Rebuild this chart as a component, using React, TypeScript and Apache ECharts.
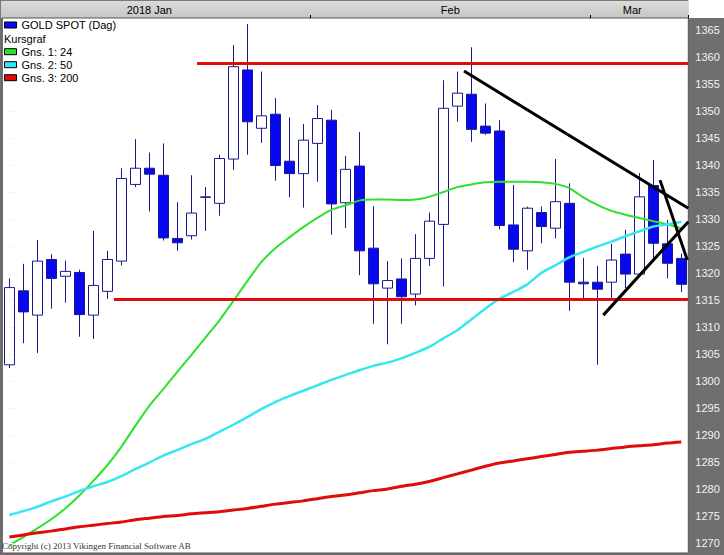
import React, { useEffect, useRef } from 'react';
import * as echarts from 'echarts';

// ---------- data ----------
const dates = [
  '2018-01-02','2018-01-03','2018-01-04','2018-01-05','2018-01-08','2018-01-09','2018-01-10','2018-01-11','2018-01-12',
  '2018-01-15','2018-01-16','2018-01-17','2018-01-18','2018-01-19','2018-01-22','2018-01-23','2018-01-24','2018-01-25',
  '2018-01-26','2018-01-29','2018-01-30','2018-01-31',
  '2018-02-01','2018-02-02','2018-02-05','2018-02-06','2018-02-07','2018-02-08','2018-02-09','2018-02-12','2018-02-13',
  '2018-02-14','2018-02-15','2018-02-16','2018-02-19','2018-02-20','2018-02-21','2018-02-22','2018-02-23','2018-02-26',
  '2018-02-27','2018-02-28',
  '2018-03-01','2018-03-02','2018-03-05','2018-03-06','2018-03-07','2018-03-08','2018-03-09'
];

const openP = [
  1303.0, 1316.7, 1312.2, 1322.5, 1319.4, 1320.1, 1312.2, 1316.6, 1322.2, 1336.4,
  1339.4, 1338.1, 1326.4, 1326.9, 1334.0, 1332.9, 1341.1, 1357.6, 1346.8, 1349.4,
  1340.7, 1338.4, 1344.0, 1348.3, 1333.0, 1339.8, 1324.6, 1317.2, 1318.9, 1316.1,
  1322.7, 1329.0, 1350.9, 1353.1, 1347.2, 1346.3, 1328.9, 1324.1, 1331.2, 1328.3,
  1332.9, 1318.3, 1318.3, 1318.3, 1323.5, 1319.8, 1336.2, 1325.4, 1322.7
];
const closeP = [
  1317.3, 1312.8, 1322.2, 1319.0, 1320.3, 1312.3, 1317.7, 1322.5, 1337.5, 1339.4,
  1338.3, 1326.5, 1325.6, 1331.1, 1334.1, 1341.2, 1358.2, 1348.0, 1349.1, 1339.9,
  1338.4, 1344.6, 1348.6, 1332.8, 1339.2, 1324.1, 1318.0, 1318.6, 1315.6, 1322.7,
  1329.6, 1350.5, 1353.3, 1346.6, 1345.9, 1328.8, 1324.4, 1332.0, 1328.6, 1333.2,
  1318.3, 1318.0, 1317.0, 1322.4, 1319.8, 1334.1, 1325.5, 1321.8, 1317.9
];
const lowP = [
  1302.4, 1307.0, 1305.2, 1313.4, 1314.5, 1308.2, 1307.8, 1315.2, 1321.4, 1335.9,
  1331.4, 1326.0, 1324.1, 1326.2, 1327.8, 1330.6, 1339.1, 1341.9, 1344.1, 1337.1,
  1334.0, 1332.1, 1336.9, 1327.1, 1328.3, 1319.6, 1310.6, 1306.8, 1310.6, 1314.0,
  1321.3, 1317.5, 1348.0, 1344.3, 1345.6, 1328.1, 1322.0, 1320.6, 1325.5, 1326.4,
  1313.0, 1315.1, 1303.0, 1315.1, 1317.2, 1319.3, 1322.4, 1319.0, 1316.5
];
const highP = [
  1319.0, 1321.7, 1326.1, 1323.5, 1322.3, 1320.6, 1327.8, 1324.1, 1339.4, 1344.8,
  1342.3, 1344.0, 1333.1, 1338.1, 1335.9, 1341.9, 1362.2, 1366.1, 1357.3, 1352.4,
  1348.8, 1347.6, 1351.1, 1350.2, 1341.7, 1346.1, 1332.4, 1322.2, 1322.7, 1327.2,
  1331.2, 1355.7, 1357.3, 1361.8, 1351.4, 1348.3, 1336.3, 1332.3, 1332.3, 1341.1,
  1336.6, 1322.8, 1321.3, 1325.4, 1328.0, 1338.5, 1340.9, 1329.8, 1323.6
];

const ma24 = [
  1269.6, 1271.1, 1272.7, 1274.4, 1276.4, 1278.8, 1281.5, 1284.4, 1287.8, 1291.7,
  1295.4, 1298.5, 1301.7, 1304.8, 1308.0, 1311.2, 1314.8, 1318.5, 1322.0, 1324.6,
  1326.6, 1328.5, 1330.2, 1331.7, 1332.5, 1333.4, 1333.6, 1333.6, 1333.5, 1333.6,
  1334.1, 1335.0, 1335.9, 1336.4, 1336.8, 1336.9, 1336.9, 1336.9, 1336.8, 1336.5,
  1335.7, 1334.0, 1332.6, 1331.5, 1330.8, 1330.2, 1329.6, 1329.0, 1328.3
];
const ma50 = [
  1275.2, 1275.9, 1276.7, 1277.7, 1278.6, 1279.6, 1280.5, 1281.3, 1282.4, 1283.7,
  1284.9, 1286.2, 1287.2, 1288.3, 1289.3, 1290.6, 1291.9, 1293.3, 1294.8, 1296.1,
  1297.2, 1298.2, 1299.2, 1300.2, 1301.1, 1302.0, 1302.8, 1303.4, 1304.2, 1305.2,
  1306.3, 1307.9, 1309.4, 1311.4, 1313.4, 1315.2, 1316.5, 1317.9, 1320.0, 1321.4,
  1322.9, 1323.9, 1324.9, 1325.8, 1326.8, 1327.7, 1328.6, 1329.0, 1329.5
];
const ma200 = [
  1271.1, 1271.5, 1271.9, 1272.2, 1272.6, 1273.0, 1273.3, 1273.6, 1273.9, 1274.3,
  1274.6, 1274.9, 1275.1, 1275.4, 1275.6, 1275.8, 1276.1, 1276.4, 1276.8, 1277.2,
  1277.5, 1277.8, 1278.2, 1278.6, 1278.9, 1279.3, 1279.7, 1280.0, 1280.5, 1280.9,
  1281.4, 1282.1, 1282.8, 1283.5, 1284.2, 1284.8, 1285.2, 1285.6, 1286.0, 1286.4,
  1286.8, 1287.0, 1287.2, 1287.5, 1287.8, 1288.0, 1288.2, 1288.5, 1288.7
];

// drawn annotations: [categoryPosition, price]
const resistanceLine = [[13.41, 1358.8], [48.5, 1358.8]];
const supportLine = [[7.48, 1315.1], [48.5, 1315.1]];
const trendDown = [[32.48, 1357.4], [48.5, 1332.0]];
const trendUp = [[42.43, 1312.2], [48.5, 1329.5]];
const trendSteep = [[46.48, 1337.2], [48.43, 1322.4]];

const yTicks = [1270, 1275, 1280, 1285, 1290, 1295, 1300, 1305, 1310, 1315, 1320,
  1325, 1330, 1335, 1340, 1345, 1350, 1355, 1360, 1365];
const monthTickIdx = [22, 42];
const monthLabelIdx = [10, 31, 44];
const monthLabelText = ['2018 Jan', 'Feb', 'Mar'];

const Y_MIN = 1268.15;
const Y_MAX = 1367.22;

const FONT = '"Liberation Sans", Arial, sans-serif';

export default function App() {
  const ref = useRef<HTMLDivElement>(null);

  useEffect(() => {
    if (!ref.current) return;
    const chart = echarts.init(ref.current, undefined, { renderer: 'svg' });
    const candles = openP.map((o, i) => [o, closeP[i], lowP[i], highP[i]]);
    const lastIdx = dates.length - 1;

    const annot = (name: string, data: number[][], color: string, width: number) => ({
      type: 'line',
      name,
      xAxisIndex: 1,
      yAxisIndex: 0,
      data,
      symbol: 'none',
      silent: true,
      lineStyle: { color, width, cap: 'butt' },
      z: 4,
    });

    const option: any = {
      animation: false,
      backgroundColor: '#6f6f6f',
      textStyle: { fontFamily: FONT },
      grid: {
        left: 2.3, right: 35.7, top: 18, bottom: 2,
        show: true, backgroundColor: '#ffffff', borderColor: '#555555', borderWidth: 1,
      },
      legend: [
        {
          orient: 'vertical', left: 4, top: 18.5, padding: 0, itemGap: 0,
          itemWidth: 12, itemHeight: 6, icon: 'rect', selectedMode: false,
          textStyle: { fontSize: 11, color: '#000', fontFamily: FONT, lineHeight: 13 },
          data: [{ name: 'GOLD SPOT (Dag)', itemStyle: { color: '#0808f0', borderColor: '#000', borderWidth: 1 } }],
        },
        {
          orient: 'vertical', left: 4, top: 45.2, padding: 0, itemGap: 0,
          itemWidth: 12, itemHeight: 6, icon: 'rect', selectedMode: false,
          textStyle: { fontSize: 11, color: '#000', fontFamily: FONT, lineHeight: 13 },
          data: [
            { name: 'Gns. 1: 24', itemStyle: { color: '#2ee02e', borderColor: '#000', borderWidth: 1 } },
            { name: 'Gns. 2: 50', itemStyle: { color: '#36e6f2', borderColor: '#000', borderWidth: 1 } },
            { name: 'Gns. 3: 200', itemStyle: { color: '#e00c0c', borderColor: '#000', borderWidth: 1 } },
          ],
        },
      ],
      xAxis: [
        {
          type: 'category', data: dates, position: 'top', boundaryGap: true,
          axisLine: { show: false },
          axisTick: {
            show: true, length: 3, lineStyle: { color: '#000' },
            interval: (i: number) => monthTickIdx.includes(i),
          },
          axisLabel: {
            interval: (i: number) => monthLabelIdx.includes(i),
            margin: 3, color: '#000', fontSize: 11, fontFamily: FONT,
            formatter: (_v: string, i: number) => {
              const k = monthLabelIdx.indexOf(i);
              if (k < 0) return '';
              return k === 0 ? `{a|${monthLabelText[k]}}` : `{b|${monthLabelText[k]}}`;
            },
            rich: {
              a: { fontSize: 11, color: '#000', fontFamily: FONT },
              b: { fontSize: 11, color: '#000', fontFamily: FONT, padding: [0, 0, 0, 14] },
            },
          },
          splitLine: { show: false },
        },
        { type: 'value', min: -0.5, max: lastIdx + 0.5, show: false },
      ],
      yAxis: {
        type: 'value', position: 'right', min: Y_MIN, max: Y_MAX,
        splitNumber: 20, minInterval: 5, maxInterval: 5,
        axisLine: { show: false },
        axisTick: { show: true, length: 4, lineStyle: { color: '#f0f0f0' }, customValues: yTicks },
        axisLabel: {
          customValues: yTicks, color: '#f2f2f2', fontSize: 11, margin: 7, fontFamily: FONT,
          formatter: (v: number) => String(Math.round(v)),
        },
        splitLine: { show: false },
        z: 5,
      },
      series: [
        {
          type: 'candlestick', name: 'GOLD SPOT (Dag)', xAxisIndex: 0, yAxisIndex: 0,
          barWidth: 11, data: candles,
          itemStyle: {
            color: '#ffffff', color0: '#0808f0',
            borderColor: '#1a1a8c', borderColor0: '#1a1a8c', borderWidth: 1,
          },
          z: 2,
        },
        {
          type: 'line', name: 'Gns. 1: 24', xAxisIndex: 0, data: ma24, symbol: 'none', smooth: 0.25,
          lineStyle: { color: '#2ee02e', width: 2 }, itemStyle: { color: '#2ee02e' }, z: 3,
        },
        {
          type: 'line', name: 'Gns. 2: 50', xAxisIndex: 0, data: ma50, symbol: 'none', smooth: 0.25,
          lineStyle: { color: '#36e6f2', width: 2.5 }, itemStyle: { color: '#36e6f2' }, z: 3,
        },
        {
          type: 'line', name: 'Gns. 3: 200', xAxisIndex: 0, data: ma200, symbol: 'none', smooth: 0.25,
          lineStyle: { color: '#e00c0c', width: 3 }, itemStyle: { color: '#e00c0c' }, z: 3,
        },
        annot('resistance', resistanceLine, '#e00c0c', 3),
        annot('support', supportLine, '#e00c0c', 3),
        annot('trend down', trendDown, '#000000', 3),
        annot('trend up', trendUp, '#000000', 3),
        annot('trend steep', trendSteep, '#000000', 3),
      ],
      graphic: [
        {
          type: 'rect', z: -1, silent: true,
          shape: { x: 0, y: 0, width: 688.3, height: 18 },
          style: {
            fill: new echarts.graphic.LinearGradient(0, 0, 0, 1, [
              { offset: 0, color: '#dcdcdc' },
              { offset: 1, color: '#c6c6c6' },
            ]),
          },
        },
        {
          type: 'line', z: -1, silent: true,
          shape: { x1: 0, y1: 0.5, x2: 688.3, y2: 0.5 },
          style: { stroke: '#7a7a7a', lineWidth: 1 },
        },
        {
          type: 'line', z: -1, silent: true,
          shape: { x1: 0.5, y1: 0, x2: 0.5, y2: 18 },
          style: { stroke: '#7a7a7a', lineWidth: 1 },
        },
        {
          type: 'rect', z: -1, silent: true,
          shape: { x: 688.3, y: 0, width: 36, height: 18 },
          style: { fill: '#ffffff' },
        },
        {
          type: 'text', left: 4, top: 33, z: 10, silent: true,
          style: { text: 'Kursgraf', fontSize: 11, fill: '#000', fontFamily: FONT },
        },
        {
          type: 'text', left: 2, top: 541, z: 10, silent: true,
          style: { text: 'Copyright (c) 2013 Vikingen Financial Software AB', fontSize: 9, fill: '#333', fontFamily: '"Liberation Serif", "Times New Roman", serif' },
        },
      ],
    };

    chart.setOption(option);
    return () => chart.dispose();
  }, []);

  return (
    <div
      ref={ref}
      style={{ position: 'absolute', left: 0, top: 0, width: 724, height: 555 }}
    />
  );
}
